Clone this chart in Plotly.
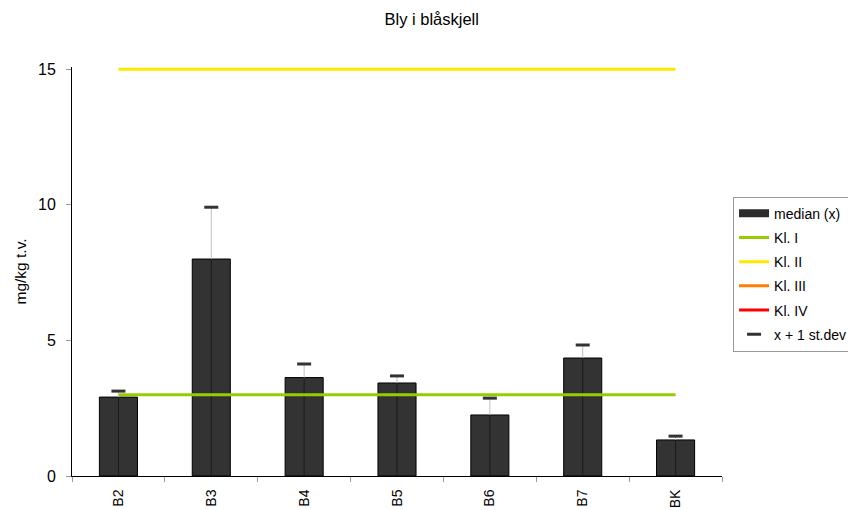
import plotly.graph_objects as go

categories = ["B2", "B3", "B4", "B5", "B6", "B7", "BK"]
median_vals = [2.91, 8.0, 3.63, 3.43, 2.25, 4.35, 1.33]
sd_upper = [3.13, 9.91, 4.13, 3.69, 2.87, 4.83, 1.47]
kl1 = [3] * 7
kl2 = [15] * 7
kl3 = [40] * 7
kl4 = [100] * 7
y_title = "mg/kg t.v."

font = "Arial, Liberation Sans, sans-serif"

fig = go.Figure()
fig.add_trace(go.Bar(x=categories, y=median_vals, name="median (x)",
                     marker=dict(color="#333333", line=dict(color="#000000", width=1)),
                     width=0.41, showlegend=False))
# legend proxy for bars (wide rectangle swatch)
fig.add_trace(go.Scatter(x=[categories[0]], y=[None], mode="lines", name="median (x)",
                         line=dict(color="#2b2b2b", width=8), legendgroup="g0"))
# dark line inside bars (from 0 to median)
fig.add_trace(go.Scatter(x=categories, y=median_vals, mode="markers",
                         marker=dict(size=1, color="rgba(0,0,0,0)"),
                         error_y=dict(type="data", symmetric=False, array=[0]*7,
                                      arrayminus=median_vals, color="#1a1a1a",
                                      thickness=1, width=0),
                         showlegend=False, hoverinfo="skip"))
for i, (vals, name, col) in enumerate([(kl1, "Kl. I", "#99CC00"), (kl2, "Kl. II", "#FFE800"),
                                       (kl3, "Kl. III", "#FF8000"), (kl4, "Kl. IV", "#FF0000")]):
    fig.add_trace(go.Scatter(x=categories, y=vals, mode="lines", name=name,
                             line=dict(color=col, width=3), legendgroup=f"g{i+1}"))
fig.add_trace(go.Scatter(x=categories, y=sd_upper, mode="markers", name="x + 1 st.dev",
                         legendgroup="g5",
                         marker=dict(symbol="line-ew", size=10, color="#333333",
                                     line=dict(color="#333333", width=3)),
                         error_y=dict(type="data", symmetric=False, array=[0]*7,
                                      arrayminus=[s - m for s, m in zip(sd_upper, median_vals)],
                                      color="#c0c0c0", thickness=1, width=0)))

fig.update_layout(
    width=856, height=510,
    margin=dict(l=64, r=142, t=59, b=42, autoexpand=False),
    paper_bgcolor="white", plot_bgcolor="white",
    title=dict(text="Bly i blåskjell", x=0.495, xanchor="center", y=0.978, yanchor="middle",
               font=dict(family=font, size=16.5, color="#000000")),
    font=dict(family=font, color="#000000"),
    showlegend=True,
    legend=dict(x=1.017, xanchor="left", y=0.683, yanchor="top",
                bordercolor="#999999", borderwidth=1, bgcolor="white",
                font=dict(family=font, size=14, color="#000000"),
                tracegroupgap=3, itemwidth=30, traceorder="grouped"),
    annotations=[dict(text=y_title, xref="paper", yref="paper", x=-0.08, y=0.5,
                      xanchor="center", yanchor="middle", textangle=-90, showarrow=False,
                      font=dict(family=font, size=15.5, color="#000000"))],
)
fig.update_xaxes(type="category", showline=True, linecolor="#000000", linewidth=1,
                 ticks="outside", tickson="boundaries", tickcolor="#999999", ticklen=5,
                 tickangle=-90, tickfont=dict(family=font, size=14, color="#000000"),
                 ticklabelstandoff=7,
                 showgrid=False, zeroline=False, automargin=False)
fig.update_yaxes(range=[0, 15.08], tickvals=[0, 5, 10, 15], showline=True, linecolor="#000000",
                 linewidth=1, ticks="outside", tickcolor="#999999", ticklen=5,
                 tickfont=dict(family=font, size=16, color="#000000"),
                 ticklabelstandoff=7,
                 showgrid=False, zeroline=False, automargin=False)

fig.write_html("out.html")
